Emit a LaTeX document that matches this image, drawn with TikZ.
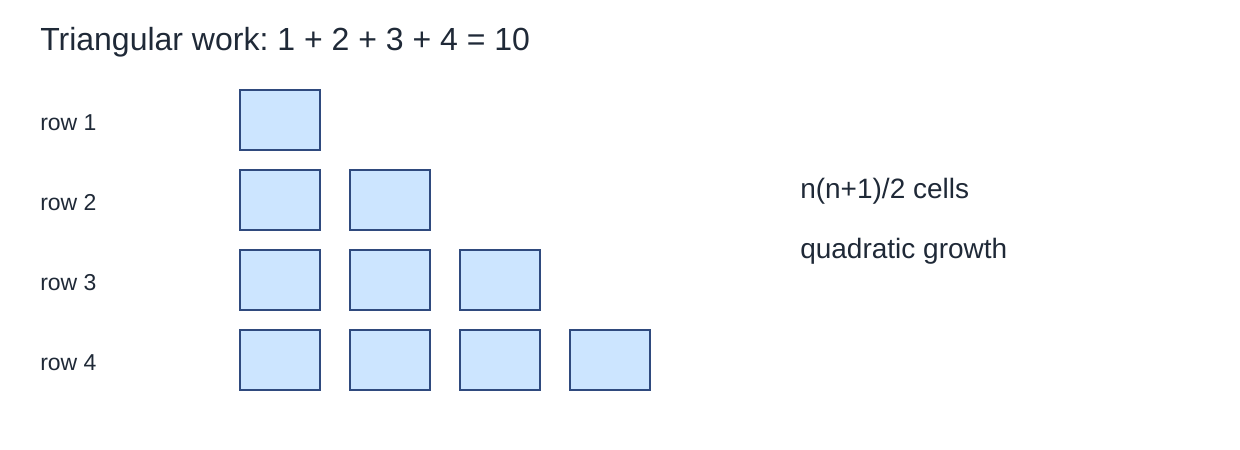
\documentclass[tikz,border=0pt]{standalone}
\usepackage{fontspec}
\setmainfont{Liberation Sans}
\frenchspacing
\definecolor{cellfill}{HTML}{CCE5FF}
\definecolor{celledge}{HTML}{2F4A7E}
\definecolor{ink}{HTML}{1F2937}
\begin{document}
\begin{tikzpicture}[x=0.75pt,y=-0.75pt,
    cell/.style={draw=celledge,fill=cellfill,line width=1.5pt,
      minimum width=60pt,minimum height=45pt,inner sep=0pt},
    rowlabel/.style={anchor=base west,inner sep=0pt,text=ink,
      font=\fontsize{17.25}{20}\selectfont},
    note/.style={anchor=base west,inner sep=0pt,text=ink,
      font=\fontsize{21}{25}\selectfont}]
  \useasboundingbox (0,0) rectangle (1240,450);
  \node[anchor=base west,inner sep=0pt,text=ink,font=\fontsize{24}{28}\selectfont]
    (title) at (40,50) {Triangular work: 1 + 2 + 3 + 4 = 10};
  \draw
    (40,130) node[rowlabel] (r1){row 1}
    (40,210) node[rowlabel] (r2){row 2}
    (40,290) node[rowlabel] (r3){row 3}
    (40,370) node[rowlabel] (r4){row 4};
  \begin{scope}
    \node[cell] (c11) at (280,120) {};
    \node[cell] (c21) at (280,200) {};
    \node[cell] (c22) at (390,200) {};
    \node[cell] (c31) at (280,280) {};
    \node[cell] (c32) at (390,280) {};
    \node[cell] (c33) at (500,280) {};
    \node[cell] (c41) at (280,360) {};
    \node[cell] (c42) at (390,360) {};
    \node[cell] (c43) at (500,360) {};
    \node[cell] (c44) at (610,360) {};
  \end{scope}
  \node[note] (cells) at (800,198) {n(n+1)/2 cells};
  \node[note] (growth) at (800,258) {quadratic growth};
\end{tikzpicture}
\end{document}
